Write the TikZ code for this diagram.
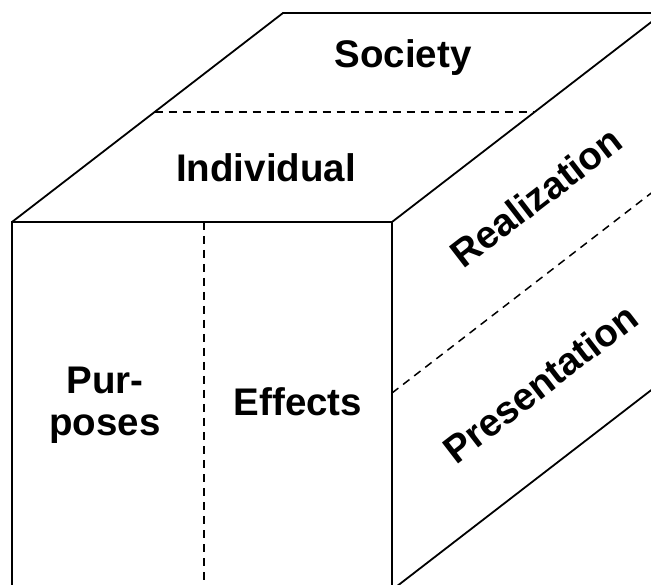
\documentclass[tikz,border=0pt]{standalone}
\usepackage{fontspec}
\setmainfont{Liberation Sans}
\usetikzlibrary{positioning}
\usetikzlibrary{calc}

\begin{document}
\begin{tikzpicture}[
      x=1pt,y=-1pt,
      edge/.style={draw=black,line width=1.8pt,line join=miter},
      split/.style={draw=black,line width=1.5pt,dash pattern=on 8pt off 6pt},
      facelbl/.style={font=\fontsize{38.5}{42}\selectfont\bfseries,align=center,inner sep=0pt}
    ]

    \useasboundingbox (0,0) rectangle (651,585);
    \clip (0,0) rectangle (651,585);

    % front face and the depth of the box
    \coordinate (ftl) at (12,222);
    \coordinate (ftr) at (392,222);
    \coordinate (fbl) at (12,590);
    \coordinate (fbr) at (392,590);
    \coordinate (btl) at ($(ftl)+(271,-209)$);
    \coordinate (btr) at ($(ftr)+(271,-209)$);
    \coordinate (bbr) at ($(fbr)+(271,-209)$);

    \path[edge] (ftl) rectangle (fbr);
    \path[edge] (ftl) -- (btl) -- (btr) -- (ftr);
    \path[edge] (btr) -- (bbr) -- (fbr);

    % dividing lines on the three faces
    \coordinate (tsplit) at ($(ftl)!0.526!(btl)$);
    \coordinate (fsplit) at ($(ftl)!0.505!(ftr)$);
    \coordinate (rsplit) at (392,393);
    \path[split] (tsplit) -- ($(tsplit)+(380,0)$);
    \path[split] (fsplit) -- ($(fsplit)+(0,368)$);
    \path[split] (rsplit) -- ($(rsplit)+(271,-209)$);

    \node[facelbl,anchor=base] (society) at (403,68) {Society};
    \node[facelbl,anchor=base] (individual) at (266,182) {Individual};
    \node[facelbl] (purposes) at (105,405) {Pur-\\poses};
    \node[facelbl,anchor=base] (effects) at (298,415) {Effects};
    \node[facelbl,rotate=37.6] (realization) at (536,197) {Realization};
    \node[facelbl,rotate=37.6] (presentation) at (540,383) {Presentation};
  \end{tikzpicture}
\end{document}
